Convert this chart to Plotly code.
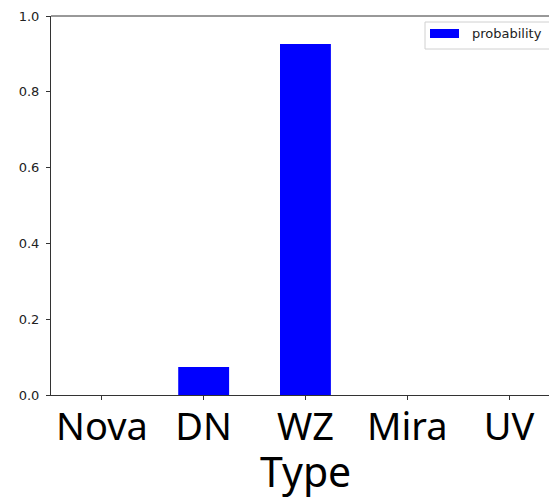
import plotly.graph_objects as go

categories = ["Nova", "DN", "WZ", "Mira", "UV"]
probability = [0.0, 0.074, 0.926, 0.0, 0.0]
series_name = "probability"
y_ticks = [0.0, 0.2, 0.4, 0.6, 0.8, 1.0]
y_tick_labels = ["0.0", "0.2", "0.4", "0.6", "0.8", "1.0"]
x_title = "Type"

W, H = 549, 498
L, R, T, B = 51, 0, 16, 103
pw, ph = W - L - R, H - T - B

def px(x):
    return (x - L) / pw

def py(y):
    return (H - B - y) / ph

fig = go.Figure()
fig.add_trace(go.Bar(
    x=list(range(len(categories))), y=probability, width=0.5,
    marker=dict(color="#0000ff", line=dict(width=0)),
    name=series_name, showlegend=False,
))

fig.update_layout(
    width=W, height=H,
    margin=dict(l=L, r=R, t=T, b=B, pad=0),
    plot_bgcolor="white", paper_bgcolor="white",
    xaxis=dict(
        range=[-0.5, 4.393], tickmode="array",
        tickvals=list(range(len(categories))), ticktext=categories,
        showline=True, linecolor="#333", linewidth=1, mirror=False,
        ticks="outside", ticklen=4, tickwidth=1, tickcolor="#333",
        showgrid=False, zeroline=False,
        tickfont=dict(family="Noto Sans", size=38, color="black"),
        ticklabelstandoff=-6,
    ),
    yaxis=dict(
        range=[0, 1.0], tickmode="array", tickvals=y_ticks, ticktext=y_tick_labels,
        showline=True, linecolor="#333", linewidth=1, mirror=False,
        ticks="outside", ticklen=4, tickwidth=1, tickcolor="#333",
        showgrid=False, zeroline=False,
        tickfont=dict(family="DejaVu Sans", size=13, color="#222"),
        ticklabelstandoff=4,
    ),
    showlegend=False,
)

# top spine
fig.add_shape(type="line", xref="paper", yref="paper", x0=0, x1=1, y0=1, y1=1,
              line=dict(color="#333", width=1), layer="above")

# x-axis title centred on the full axes span
fig.add_annotation(
    x=2, xref="x", y=(H - B - 501) / ph, yref="paper", yanchor="bottom",
    text=x_title, showarrow=False,
    font=dict(family="Noto Sans", size=41, color="black"),
)

# legend (box, swatch, label)
fig.add_shape(type="rect", xref="paper", yref="paper",
              x0=px(425), x1=px(570), y0=py(49), y1=py(22),
              line=dict(color="#d0d0d0", width=1), fillcolor="rgba(255,255,255,0.8)",
              layer="above")
fig.add_shape(type="rect", xref="paper", yref="paper",
              x0=px(430), x1=px(459), y0=py(38), y1=py(29),
              line=dict(width=0), fillcolor="#0000ff", layer="above")
fig.add_annotation(x=px(470), xref="paper", y=py(33.5), yref="paper",
                   xanchor="left", yanchor="middle", text=series_name, showarrow=False,
                   font=dict(family="DejaVu Sans", size=13, color="#222"))

fig.write_html("out.html", config={"displayModeBar": False},
               post_script="document.body.style.margin='0';"
                           "document.documentElement.style.overflow='hidden';")
